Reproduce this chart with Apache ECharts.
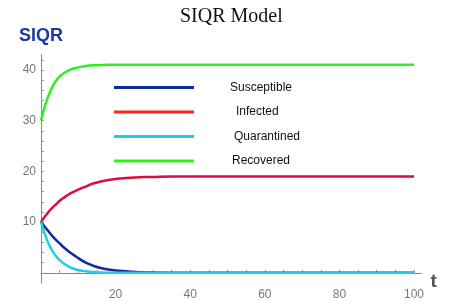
<!DOCTYPE html>
<html><head><meta charset="utf-8">
<script src="https://cdn.jsdelivr.net/npm/echarts@6/dist/echarts.min.js"></script>
<style>html,body{margin:0;padding:0;background:#fff}#c{width:466px;height:301px}</style>
</head><body><div id="c"></div>
<script>
const tValues = [0,1,2,3,4,5,6,8,10,12,14,16,18,20,25,30,35,40,50,60,70,80,90,100];
const susceptible = [10,9.1,8.2,7.3,6.5,5.8,5.1,3.9,2.9,2.0,1.4,0.95,0.65,0.45,0.18,0.07,0.03,0.01,0,0,0,0,0,0];
const infected = [10,11.05,12.0,12.8,13.5,14.2,14.75,15.7,16.4,17.0,17.6,18.0,18.3,18.5,18.8,18.9,19.0,19.0,19.0,19.0,19.0,19.0,19.0,19.0];
const quarantined = [10,7.7,5.8,4.4,3.3,2.5,1.9,1.05,0.55,0.3,0.15,0.08,0.04,0.02,0,0,0,0,0,0,0,0,0,0];
const recovered = [30,32.8,34.9,36.6,37.8,38.7,39.3,40.1,40.5,40.75,40.9,40.95,41,41,41,41,41,41,41,41,41,41,41,41];
const seriesNames = ['Susceptible','Infected','Quarantined','Recovered'];
const xLabels = [20,40,60,80,100];
const yLabels = [10,20,30,40];
const xMinor = [5,10,15,20,25,30,35,40,45,50,55,60,65,70,75,80,85,90,95,100];
const yMinor = [2,4,6,8,10,12,14,16,18,20,22,24,26,28,30,32,34,36,38,40,42];

const lineColors = ['#0c2c9c','#dc0c40','#1ccfe6','#2ef01c'];
const legendColors = ['#0c2c9c','#ff2424','#1ccfe6','#2ef01c'];
const legendPad = [31,37,35,33];
const allData = [susceptible, infected, quarantined, recovered];

const font = 'Liberation Sans, Arial, sans-serif';
const chart = echarts.init(document.getElementById('c'), null, {renderer:'canvas'});
chart.setOption({
  animation:false,
  title:{text:'SIQR Model', left:175, top:2,
    textStyle:{fontFamily:'Liberation Serif, Times New Roman, serif', fontWeight:'normal', fontSize:20, color:'#111'}},
  legend:{
    orient:'vertical', left:109, top:75.5, itemWidth:80, itemHeight:3, itemGap:10.5, icon:'rect',
    textStyle:{fontFamily:font, fontSize:12, color:'#111', lineHeight:14},
    data: seriesNames.map((n,i)=>({name:n, itemStyle:{color:legendColors[i]}, textStyle:{padding:[0,0,0,legendPad[i]]}}))
  },
  grid:{left:41, right:466-(41+102*3.73), top:280-43*5.24, bottom:301-(280+2*5.24), containLabel:false},
  xAxis:{type:'value', min:0, max:102, name:'t', nameLocation:'end', nameGap:9,
    nameTextStyle:{fontFamily:font, fontWeight:'bold', fontSize:19, color:'#555', verticalAlign:'top', lineHeight:18},
    axisLine:{onZero:true, lineStyle:{color:'#888', width:1}},
    axisTick:{show:true, inside:true, length:3, customValues:xMinor, lineStyle:{color:'#999'}},
    axisLabel:{customValues:xLabels, margin:6, fontFamily:font, fontSize:12, color:'#777'},
    splitLine:{show:false}},
  yAxis:{type:'value', min:-2, max:43, name:'SIQR', nameLocation:'end', nameGap:10,
    nameTextStyle:{fontFamily:font, fontWeight:'bold', fontSize:18, color:'#1c38a0', align:'center'},
    axisLine:{show:true, onZero:true, lineStyle:{color:'#888', width:1}},
    axisTick:{show:true, inside:true, length:3, customValues:yMinor, lineStyle:{color:'#999'}},
    axisLabel:{customValues:yLabels, margin:5, fontFamily:font, fontSize:12, color:'#777'},
    splitLine:{show:false}},
  series: seriesNames.map((n,i)=>({
    name:n, type:'line', smooth:0.4, showSymbol:false, symbol:'none',
    data: tValues.map((t,k)=>[t, allData[i][k]]),
    lineStyle:{color:lineColors[i], width:2.5},
    itemStyle:{color:lineColors[i]}
  }))
});
</script></body></html>
